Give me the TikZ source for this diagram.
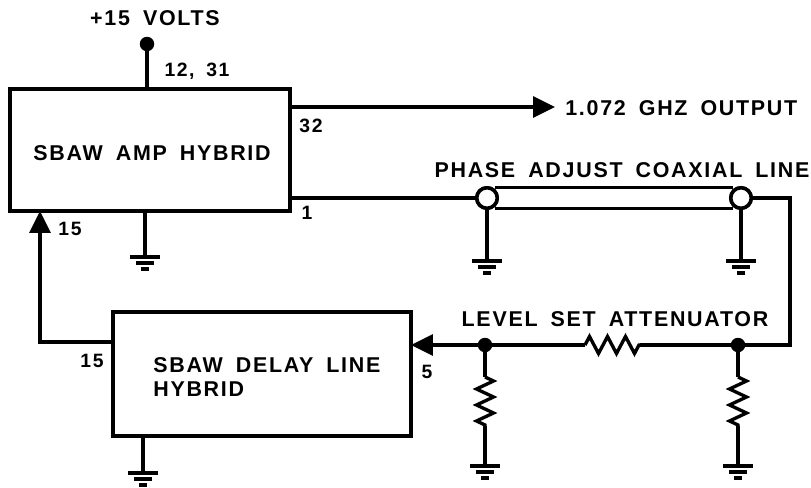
\documentclass[tikz,border=0pt]{standalone}
\usepackage{fontspec}
\setmainfont{Liberation Sans}[LetterSpace=8,WordSpace=1.7]
\usetikzlibrary{arrows.meta,decorations.pathmorphing}
\tikzset{
    wire/.style={line width=1.9pt},
    block/.style={draw,line width=2.5pt,inner sep=0pt,outer sep=0pt},
    lab/.style={inner sep=0pt,font=\bfseries\fontsize{12.2}{13.5}\selectfont},
    pin/.style={inner sep=0pt,font=\bfseries\fontsize{11}{12}\selectfont},
    dot/.style={circle,fill=black,inner sep=0pt,outer sep=0pt,minimum size=0.29cm},
    coaxend/.style={circle,draw,fill=white,line width=2pt,inner sep=0pt,outer sep=0pt,minimum size=0.41cm},
    res/.style={wire,decorate,decoration={zigzag,amplitude=0.17cm,segment length=#1}},
    gnd/.pic={
        \draw[line width=2pt] (-15,0) -- (15,0);
        \draw[line width=2pt] (-9,6) -- (9,6);
        \draw[line width=2pt] (-4,12) -- (4,12);
    }
}
\begin{document}
\begin{tikzpicture}[x=0.02cm,y=-0.02cm,>={Triangle[length=0.44cm,width=0.42cm]}]
    \useasboundingbox (0,0) rectangle (811,487);
    % blocks
    \node[block,minimum width=5.6cm,minimum height=2.44cm] (amp) at (150,150) {};
    \node[block,minimum width=5.96cm,minimum height=2.48cm] (delay) at (262,374) {};
    \node[lab] (ampname) at (152,153) {SBAW AMP HYBRID};
    \node[lab,align=left,anchor=north west] (delayname) at (153,357) {SBAW DELAY LINE\\HYBRID};
    % supply
    \node[dot] (supply) at (147,44) {};
    \draw[wire] (supply) -- (supply |- amp.north);
    \node[lab] (volts) at (155,18) {+15 VOLTS};
    \node[pin] (pinsupply) at (197,71) {12, 31};
    % output
    \coordinate (outstub) at (amp.east |- 0,107);
    \node[lab,anchor=west] (output) at (565,108) {1.072 GHZ OUTPUT};
    \draw[wire,->] (outstub) -- (555,107);
    \node[pin] (pinout) at (311,126) {32};
    % coax
    \node[coaxend] (coaxa) at (487,198) {};
    \node[coaxend] (coaxb) at (741,198) {};
    \coordinate (ampstub) at (amp.east |- coaxa);
    \draw[wire] (ampstub) -- (coaxa);
    \draw[wire] (coaxa.north) ++(8,0) -- ([xshift=-0.16cm]coaxb.north);
    \draw[wire] (coaxa.south) ++(8,0) -- ([xshift=-0.16cm]coaxb.south);
    \node[coaxend] at (coaxa) {};
    \node[coaxend] at (coaxb) {};
    \node[lab] (coaxname) at (622,170) {PHASE ADJUST COAXIAL LINE};
    \node[pin] (pinone) at (307,213) {1};
    % attenuator
    \node[dot] (joina) at (485,345) {};
    \node[dot] (joinb) at (738,345) {};
    \coordinate (corner) at (790,198);
    \coordinate (resa) at (640,345);
    \coordinate (resb) at (585,345);
    \coordinate (delayin) at (delay.east |- joina);
    \draw[wire] (coaxb) -- (corner) -- (corner |- joinb) -- (joinb) -- (resa);
    \draw[res=0.36cm] (resb) -- (resa);
    \draw[wire] (resb) -- (joina);
    \draw[wire,->] (joina) -- (delayin);
    \node[lab] (attname) at (615,319) {LEVEL SET ATTENUATOR};
    \node[pin] (pinfive) at (427,372) {5};
    % feedback
    \coordinate (fbcorner) at (40,342);
    \coordinate (fbstart) at (delay.west |- fbcorner);
    \draw[wire,->] (fbstart) -- (fbcorner) -- (fbcorner |- amp.south);
    \node[pin] (pinampin) at (70,229) {15};
    \node[pin] (pindelay) at (92,361) {15};
    % grounds
    \foreach \name/\x/\y in {gnda/145/257,gndb/487/261,gndc/741/261,gndd/143/473,gnde/485/466,gndf/738/466} {
        \coordinate (\name) at (\x,\y);
        \pic at (\name) {gnd};
    }
    \draw[wire] (gnda |- amp.south) -- (gnda);
    \draw[wire] (coaxa) -- (gndb);
    \draw[wire] (coaxb) -- (gndc);
    \draw[wire] (gndd |- delay.south) -- (gndd);
    % shunt resistors
    \foreach \top/\gnd in {joina/gnde,joinb/gndf} {
        \draw[wire] (\top) -- ([yshift=-0.64cm]\top.center);
        \draw[res=0.32cm] ([yshift=-0.64cm]\top.center) -- ([yshift=-1.62cm]\top.center);
        \draw[wire] ([yshift=-1.62cm]\top.center) -- (\gnd);
    }
\end{tikzpicture}
\end{document}
